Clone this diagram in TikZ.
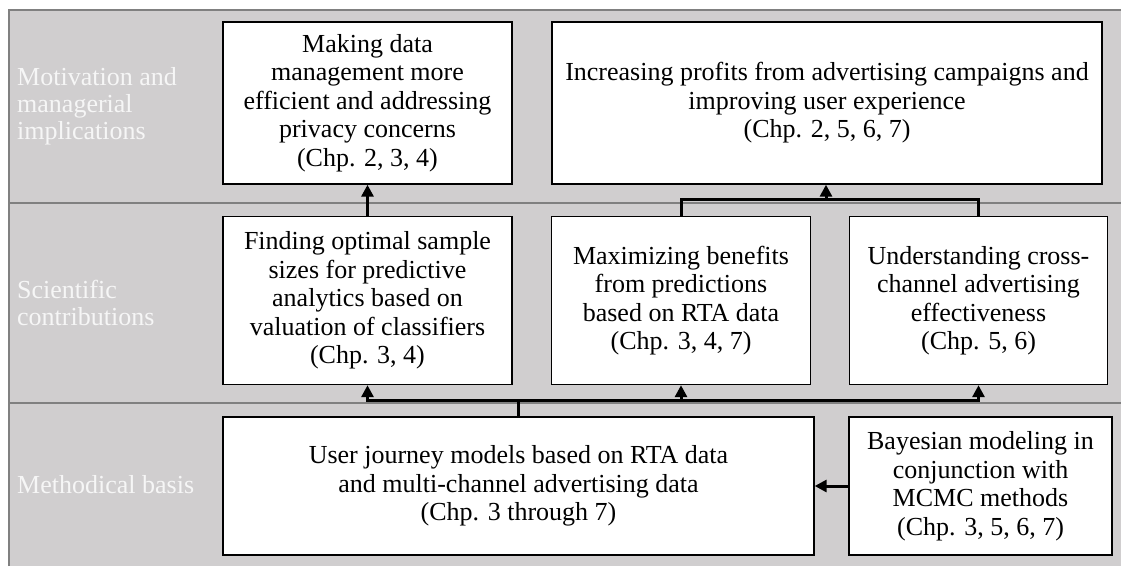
\documentclass[tikz,border=0pt]{standalone}
\usepackage{fontspec}
\setmainfont{Liberation Serif}
\usepackage{xcolor}
\usetikzlibrary{arrows.meta}

\definecolor{bandgray}{RGB}{208,206,207}
\definecolor{edgegray}{RGB}{128,128,128}
\definecolor{labelwhite}{RGB}{246,246,246}

\tikzset{
  box/.style={draw=black, line width=1.4pt, fill=white, align=center,
    inner sep=0pt, font=\fontsize{26}{28.5}\selectfont},
  bandlabel/.style={text=labelwhite, align=left, anchor=west,
    inner sep=0pt, font=\fontsize{26}{27}\selectfont},
  link/.style={line width=3pt, -{Triangle[length=12pt,width=12pt]}},
  joint/.style={line width=3pt},
}

\begin{document}
\begin{tikzpicture}[x=1pt, y=-1pt]
\useasboundingbox (0,0) rectangle (1121,566);

% three bands
\fill[bandgray] (8.5,9.5) rectangle (1121,566);
\draw[edgegray, line width=2pt] (8.5,566) -- (8.5,9.5) -- (1121,9.5);
\draw[edgegray, line width=2pt] (8.5,203) -- (1121,203);
\draw[edgegray, line width=2pt] (8.5,403) -- (1121,403);

\node[bandlabel] (motiv) at (17,106) {Motivation and\\managerial\\implications};
\node[bandlabel] (contrib) at (17,303) {Scientific\\contributions};
\node[bandlabel] (basis) at (17,485) {Methodical basis};

% top row
\node[box, minimum width=289, minimum height=162] (makedata) at (367.5,103)
  {Making data\\management more\\efficient and addressing\\privacy concerns\\(Chp. 2, 3, 4)};
\node[box, minimum width=550, minimum height=162] (profits) at (827,103)
  {Increasing profits from advertising campaigns and\\improving user experience\\(Chp. 2, 5, 6, 7)};

% middle row
\node[box, minimum width=289, minimum height=168] (samplesize) at (367.5,300.5)
  {Finding optimal sample\\sizes for predictive\\analytics based on\\valuation of classifiers\\(Chp. 3, 4)};
\node[box, minimum width=259, minimum height=168] (benefits) at (681,300.5)
  {Maximizing benefits\\from predictions\\based on RTA data\\(Chp. 3, 4, 7)};
\node[box, minimum width=258, minimum height=168] (crosschannel) at (978.5,300.5)
  {Understanding cross-\\channel advertising\\effectiveness\\(Chp. 5, 6)};

% bottom row
\node[box, minimum width=591, minimum height=138] (journey) at (518.5,486)
  {User journey models based on RTA data\\and multi-channel advertising data\\(Chp. 3 through 7)};
\node[box, minimum width=263, minimum height=138] (bayes) at (980.5,486)
  {Bayesian modeling in\\conjunction with\\MCMC methods\\(Chp. 3, 5, 6, 7)};

% connectors
\coordinate (topjoin) at (826,199);
\coordinate (basejoin) at (518.5,400);

\draw[link] (samplesize) -- (makedata);
\draw[joint] (benefits.north) |- (topjoin) -| (crosschannel.north);
\draw[link] (topjoin) -- (profits.south -| topjoin);

\draw[joint] (journey.north) -- (basejoin);
\draw[link] (basejoin) -| (samplesize.south);
\draw[link] (basejoin) -| (benefits.south);
\draw[link] (basejoin) -| (crosschannel.south);

\draw[link] (bayes) -- (journey);
\end{tikzpicture}
\end{document}
